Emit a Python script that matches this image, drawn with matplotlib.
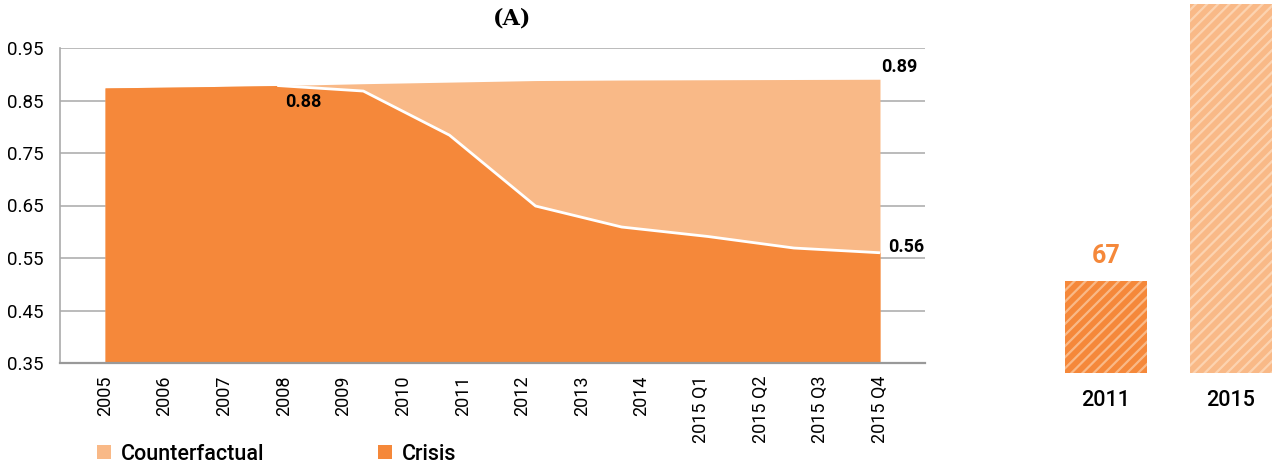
import numpy as np
import matplotlib
matplotlib.use("Agg")
import matplotlib.pyplot as plt
from matplotlib.patches import Patch

# ---- data ----
categories = ["2005", "2006", "2007", "2008", "2009", "2010", "2011", "2012",
              "2013", "2014", "2015 Q1", "2015 Q2", "2015 Q3", "2015 Q4"]
crisis = [0.874, 0.876, 0.8785, 0.868, 0.784, 0.649, 0.609, 0.591, 0.569, 0.560]
counterfactual = [0.874, 0.876, 0.8785, 0.882, 0.885, 0.888, 0.889, 0.8895, 0.890, 0.8905]
yticks = [0.35, 0.45, 0.55, 0.65, 0.75, 0.85, 0.95]
bar_labels = ["2011", "2015"]
bar_values = [67, 269]

C_DARK = "#F5883A"
C_LIGHT = "#F9B987"
C_PALE = "#FCD3B0"
FONT = "Roboto"

plt.rcParams["font.family"] = [FONT, "DejaVu Sans"]
plt.rcParams["hatch.linewidth"] = 1.6

fig = plt.figure(figsize=(12.76, 4.66), dpi=100)

# ---- left panel: area chart ----
ax = fig.add_axes([60/1276, 1-363/466, (925-60)/1276, (363-48)/466])
x = np.linspace(0, len(categories) - 1, len(crisis))
cr = np.array(crisis)
cf = np.array(counterfactual)

for yv in yticks:
    ax.axhline(yv, color="#BBBBBB", lw=1.4, zorder=0)
ax.fill_between(x, 0.35, cf, color=C_LIGHT, lw=0, zorder=1)
ax.fill_between(x, 0.35, cr, color=C_DARK, lw=0, zorder=2)
ax.plot(x[2:], cr[2:], color="white", lw=2, zorder=3, solid_capstyle="butt")

ax.set_xlim(-0.755, len(categories) - 1 + 0.755)
ax.set_ylim(0.35, 0.95)
ax.set_yticks(yticks)
ax.set_yticklabels([f"{v:.2f}" for v in yticks], fontsize=13.5)
ax.set_xticks(range(len(categories)))
ax.set_xticklabels(categories, rotation=90, fontsize=13)
ax.tick_params(axis="both", length=0)
ax.tick_params(axis="x", pad=9)
ax.tick_params(axis="y", pad=12)
for s in ["top", "right"]:
    ax.spines[s].set_visible(False)
ax.spines["left"].set_color("#AAAAAA")
ax.spines["left"].set_linewidth(1.2)
ax.spines["bottom"].set_color("#999999")
ax.spines["bottom"].set_linewidth(1.6)

ax.annotate(f"{crisis[2]:.2f}", (x[2], cr[2]), xytext=(19, -11.5), textcoords="offset points",
            ha="center", va="center", fontsize=13, fontweight="bold")
ax.annotate(f"{counterfactual[-1]:.2f}", (x[-1], cf[-1]), xytext=(14, 9), textcoords="offset points",
            ha="center", va="center", fontsize=13, fontweight="bold")
ax.annotate(f"{crisis[-1]:.2f}", (x[-1], cr[-1]), xytext=(19, 4.5), textcoords="offset points",
            ha="center", va="center", fontsize=13, fontweight="bold")

fig.text(512/1276, 1-19/466, "(A)", ha="center", va="center", fontsize=16,
         fontweight="heavy", family="DejaVu Serif")

handles = [Patch(facecolor=C_LIGHT, edgecolor="none", label="Counterfactual"),
           Patch(facecolor=C_DARK, edgecolor="none", label="Crisis")]
fig.legend(handles=handles, loc="center left", bbox_to_anchor=(97/1276, 1-454/466), ncol=2,
           frameon=False, prop={"size": 15.5, "weight": "medium"},
           handlelength=0.65, handleheight=0.65,
           handletextpad=0.45, columnspacing=5.3, borderpad=0, borderaxespad=0)

# ---- right panel: bars ----
bx = fig.add_axes([1040/1276, 1-373/466, (1276-1040)/1276, 373/466])
bars = bx.bar(range(len(bar_values)), bar_values, width=0.656,
              color=[C_DARK, C_LIGHT], edgecolor=[C_LIGHT, C_PALE], lw=0, hatch="///")
bx.set_xlim(-0.528, 1.36)
bx.set_ylim(0, 272)
bx.set_xticks(range(len(bar_labels)))
bx.set_xticklabels(bar_labels, fontsize=15.5, fontweight="medium")
bx.tick_params(axis="x", length=0, pad=12)
bx.set_yticks([])
for s in bx.spines.values():
    s.set_visible(False)
bx.annotate(str(bar_values[0]), (0, bar_values[0]), xytext=(0, 18), textcoords="offset points",
            ha="center", va="center", fontsize=18, fontweight="bold", color=C_DARK)

fig.savefig("out.png", dpi=100)
